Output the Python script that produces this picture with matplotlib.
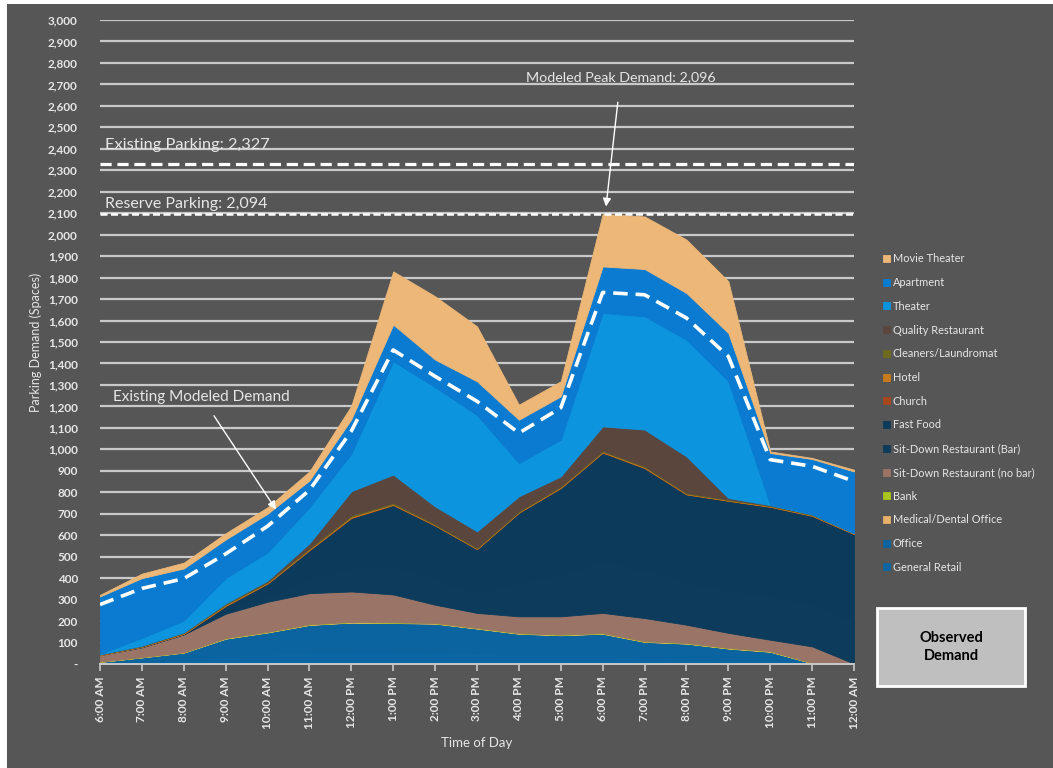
import matplotlib
matplotlib.use("Agg")
import matplotlib.pyplot as plt
from matplotlib.patches import Rectangle
import numpy as np

plt.rcParams['font.family'] = ['Lato', 'DejaVu Sans']

# Time of day (hourly, 6 AM to midnight)
times = ["6:00 AM", "7:00 AM", "8:00 AM", "9:00 AM", "10:00 AM", "11:00 AM",
         "12:00 PM", "1:00 PM", "2:00 PM", "3:00 PM", "4:00 PM", "5:00 PM",
         "6:00 PM", "7:00 PM", "8:00 PM", "9:00 PM", "10:00 PM", "11:00 PM",
         "12:00 AM"]

# Parking demand by land use (spaces), stacked bottom to top
general_retail = [3, 10, 17, 36, 45, 55, 58, 58, 57, 50, 43, 41, 43, 32, 29, 22, 18, 2, 0]
office = [7, 21, 36, 82, 102, 127, 135, 133, 131, 115, 98, 93, 98, 71, 66, 50, 39, 2, 0]
medical_dental = [0, 0, 1, 1, 1, 1, 1, 1, 1, 1, 1, 1, 1, 1, 1, 1, 1, 0, 0]
bank = [1, 1, 1, 2, 2, 2, 2, 2, 2, 2, 2, 2, 2, 2, 2, 2, 2, 1, 0]
sitdown_no_bar = [31, 46, 83, 113, 140, 145, 142, 130, 85, 70, 78, 85, 94, 108, 85, 70, 53, 77, 2]
sitdown_bar = [0, 1, 1, 12, 28, 65, 110, 135, 120, 95, 155, 190, 240, 225, 195, 200, 200, 195, 195]
fast_food = [0, 1, 1, 24, 57, 135, 232, 281, 249, 202, 328, 408, 507, 473, 412, 415, 419, 413, 408]
church = [0, 0, 1, 2, 1, 2, 2, 2, 1, 1, 1, 1, 1, 2, 1, 1, 1, 1, 1]
hotel = [1, 1, 2, 3, 3, 3, 4, 3, 2, 2, 2, 3, 3, 3, 2, 2, 2, 2, 2]
cleaners = [2, 3, 3, 5, 4, 5, 6, 5, 4, 4, 4, 4, 4, 4, 4, 3, 3, 3, 2]
quality_restaurant = [0, 1, 1, 2, 5, 22, 113, 132, 82, 76, 69, 46, 114, 171, 170, 7, 2, 1, 0]
theater = [2, 37, 55, 118, 132, 168, 175, 528, 556, 542, 155, 171, 528, 528, 544, 544, 2, 1, 0]
apartment = [268, 278, 243, 180, 180, 125, 160, 171, 128, 157, 202, 202, 217, 220, 217, 225, 241, 257, 287]
movie_theater = [7, 21, 27, 29, 30, 42, 63, 248, 295, 256, 70, 70, 244, 245, 249, 241, 7, 5, 8]

# Existing modeled demand (dashed line)
existing_modeled = [277, 352, 398, 513, 642, 810, 1085, 1463, 1340, 1224, 1076, 1193,
                    1731, 1720, 1612, 1433, 952, 921, 851]

existing_parking = 2327
reserve_parking = 2094
peak_demand = 2096

series = [
    ("General Retail", general_retail, "#0C66A3"),
    ("Office", office, "#0B649F"),
    ("Medical/Dental Office", medical_dental, "#E9B06C"),
    ("Bank", bank, "#A9C61E"),
    ("Sit-Down Restaurant (no bar)", sitdown_no_bar, "#9A7467"),
    ("Sit-Down Restaurant (Bar)", sitdown_bar, "#0C3B5C"),
    ("Fast Food", fast_food, "#0B3A5B"),
    ("Church", church, "#A8461C"),
    ("Hotel", hotel, "#C97A1C"),
    ("Cleaners/Laundromat", cleaners, "#6E6B1E"),
    ("Quality Restaurant", quality_restaurant, "#5B463E"),
    ("Theater", theater, "#0D94DE"),
    ("Apartment", apartment, "#0A7BD0"),
    ("Movie Theater", movie_theater, "#EDB877"),
]

bg = "#565656"
fg = "#E6E6E6"
grid_c = "#C9C9C9"

fig = plt.figure(figsize=(10.53, 7.68), dpi=100)
fig.patch.set_facecolor("white")
fig.add_artist(Rectangle((7 / 1053, 0), 1 - 7 / 1053, 1 - 4 / 768,
                         transform=fig.transFigure, facecolor=bg, edgecolor="none", zorder=-10))

ax = fig.add_axes([100 / 1053, 104 / 768, 754 / 1053, 644 / 768])
ax.set_facecolor("none")
x = np.arange(len(times))

ax.set_xlim(0, len(times) - 1)
ax.set_ylim(0, 3000)

# Horizontal gridlines
for v in range(100, 3001, 100):
    ax.axhline(v, color=grid_c, lw=1.6, zorder=0)

polys = ax.stackplot(x, *[s[1] for s in series], colors=[s[2] for s in series],
                     labels=[s[0] for s in series], zorder=2)
for p, s in zip(polys, series):
    p.set_edgecolor(s[2])
    p.set_linewidth(0.6)

# Existing modeled demand line
ax.plot(x, existing_modeled, color="white", lw=2.6, dashes=(4, 2.2), zorder=4)

# Parking supply lines
ax.axhline(existing_parking, color="white", lw=2.3, dashes=(3.5, 1.8), zorder=4)
ax.axhline(reserve_parking, color="white", lw=1.8, dashes=(2.8, 1.4), zorder=4)

ax.text(0.12, existing_parking + 60, "Existing Parking: 2,327", color=fg, fontsize=11.8,
        ha="left", va="bottom", zorder=5)
ax.text(0.12, reserve_parking + 16, "Reserve Parking: 2,094", color=fg, fontsize=11.5,
        ha="left", va="bottom", zorder=5)

# Peak demand callout
ax.annotate("Modeled Peak Demand: 2,096", xy=(12.08, peak_demand + 35), xytext=(12.43, 2735),
            color=fg, fontsize=10.3, ha="center", va="center", zorder=6,
            arrowprops=dict(arrowstyle="-|>", color="white", lw=1.0, mutation_scale=12,
                            shrinkA=12, shrinkB=0))

# Existing modeled demand callout
ax.annotate("Existing Modeled Demand", xy=(4.2, 720), xytext=(2.42, 1245),
            color=fg, fontsize=11, ha="center", va="center", zorder=6,
            arrowprops=dict(arrowstyle="-|>", color="white", lw=1.0, mutation_scale=12,
                            shrinkA=8, shrinkB=0))

# Axes styling
for side in ["top", "right", "left"]:
    ax.spines[side].set_visible(False)
ax.spines["bottom"].set_color(grid_c)
ax.spines["bottom"].set_linewidth(1.4)
ax.spines["bottom"].set_zorder(5)

ax.set_xticks(x)
ax.set_xticklabels(times, rotation=90, color=fg, fontsize=8.5, fontweight="bold")
ax.tick_params(axis="x", colors=grid_c, length=5, width=1.2, labelcolor=fg, pad=4)

yt = list(range(0, 3001, 100))
ax.set_yticks(yt)
ax.set_yticklabels(["-"] + [f"{v:,}" for v in yt[1:]], color=fg, fontsize=8.5, fontweight="bold")
ax.tick_params(axis="y", length=0, pad=16)

ax.set_ylabel("Parking Demand (Spaces)", color=fg, fontsize=9, labelpad=4)
ax.set_xlabel("Time of Day", color=fg, fontsize=9.5, labelpad=6)

# Legend (top entry first)
handles, labels = ax.get_legend_handles_labels()
leg = fig.legend(handles[::-1], labels[::-1], loc="upper left",
                 bbox_to_anchor=(879 / 1053, 1 - 249 / 768), frameon=False,
                 fontsize=7.9, labelcolor=fg, handlelength=0.6, handleheight=0.6,
                 handletextpad=0.25, labelspacing=1.16, borderaxespad=0)

# Observed demand box
fig.add_artist(Rectangle((877 / 1053, 1 - 686 / 768), 148 / 1053, 78 / 768,
                         transform=fig.transFigure, facecolor="#BFBFBF",
                         edgecolor="white", lw=2, zorder=5))
fig.text(951 / 1053, 1 - 647 / 768, "Observed\nDemand", ha="center", va="center",
         fontsize=10.5, fontweight="bold", color="black", linespacing=1.3, zorder=6)

fig.savefig("out.png", dpi=100, facecolor=fig.get_facecolor())
